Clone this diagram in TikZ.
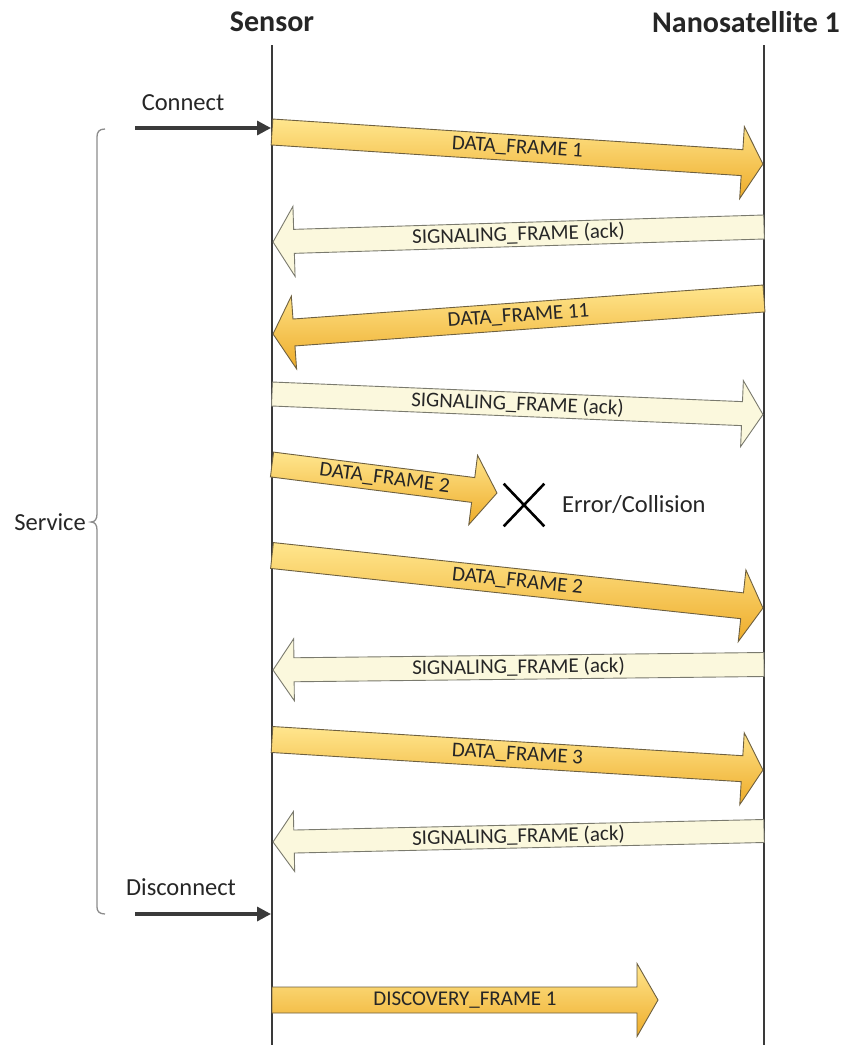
\documentclass[tikz,border=0pt]{standalone}
\usepackage{fontspec}
\setmainfont{Carlito}
\usetikzlibrary{arrows.meta,shapes.misc,calc}
\definecolor{lifec}{HTML}{3A3A3A}
\definecolor{goldtop}{HTML}{FFE68E}
\definecolor{goldbot}{HTML}{EEAC2A}
\definecolor{goldedge}{HTML}{6E6040}
\definecolor{creamfill}{HTML}{FBF8DD}
\definecolor{creamedge}{HTML}{7A7A6E}
\definecolor{bracec}{HTML}{8C8C8C}
\definecolor{txtc}{HTML}{262626}
\tikzset{
  dataframe/.style={top color=goldtop, bottom color=goldbot, draw=goldedge, line width=0.9pt},
  sigframe/.style={fill=creamfill, draw=creamedge, line width=0.9pt},
  framelbl/.style={font=\fontsize{21}{24}\selectfont, text=txtc, inner sep=0pt},
  hdr/.style={font=\fontsize{30}{34}\bfseries\selectfont, text=txtc, inner sep=0pt},
  sidelbl/.style={font=\fontsize{24.5}{28}\selectfont, text=txtc, inner sep=0pt},
  lifeline/.style={draw=lifec, line width=2pt},
  ctrlarrow/.style={draw=lifec, line width=3.2pt, -{Triangle[length=14pt,width=14pt]}},
  bracestyle/.style={draw=bracec, line width=1.3pt},
  crossmark/.style={cross out, draw=black, line width=2.6pt, minimum width=38pt, minimum height=40pt, inner sep=0pt}
}
\def\hlen{21}
% #1 name, #2 x1, #3 y1 (tail centre), #4 x2, #5 y2 (tip), #6 style, #7 body width, #8 head width, #9 label
\newcommand\framearrow[9]{%
  \pgfmathsetmacro\faang{atan2(-((#5)-(#3)),(#4)-(#2))}%
  \pgfmathsetmacro\falen{veclen((#4)-(#2),(#5)-(#3))}%
  \pgfmathsetmacro\fatxt{cos(\faang)<0 ? \faang+180 : \faang}%
  \begin{scope}[shift={(#2,#3)}, rotate=\faang]
    \path[#6] (0,-#7/2) -- (\falen-\hlen,-#7/2) -- (\falen-\hlen,-#8/2) -- (\falen,0)
      -- (\falen-\hlen,#8/2) -- (\falen-\hlen,#7/2) -- (0,#7/2) -- cycle;
  \end{scope}
  \node[framelbl, rotate=\fatxt] (#1) at ($(#2,#3)!0.5!(#4,#5)$) {#9};
}
\begin{document}
\begin{tikzpicture}[x=1pt,y=-1pt]
\useasboundingbox[fill=white] (0,0) rectangle (845,1045);

% headers and lifelines
\node[hdr] (sensor) at (272,22) {Sensor};
\node[hdr] (nano) at (746,22) {Nanosatellite 1};
\coordinate (stop) at (272,45);
\coordinate (sbot) at (272,1045);
\coordinate (ntop) at (764,45);
\coordinate (nbot) at (764,1045);
\draw[lifeline] (stop) -- (sbot);
\draw[lifeline] (ntop) -- (nbot);

% connect / disconnect
\node[sidelbl] (connect) at (183,103) {Connect};
\coordinate (con0) at (135,128);
\coordinate (con1) at (271,128);
\draw[ctrlarrow] (con0) -- (con1);
\node[sidelbl] (disconnect) at (181,887) {Disconnect};
\coordinate (dis0) at (135,914);
\coordinate (dis1) at (271,914);
\draw[ctrlarrow] (dis0) -- (dis1);

% service brace
\draw[bracestyle] (105,129) .. controls (99,129) and (97,132) .. (97,137) -- (97,514)
  .. controls (97,519) and (95,522) .. (91,522) .. controls (95,522) and (97,525) .. (97,530)
  -- (97,907) .. controls (97,911) and (99,914) .. (105,914);
\node[sidelbl, anchor=east] (service) at (86,522) {Service};

% frames
\framearrow{f1}{272}{132}{763}{164}{dataframe}{26}{72}{DATA\_FRAME 1}
\framearrow{f2}{764}{227}{273}{242}{sigframe}{24}{70}{SIGNALING\_FRAME (ack)}
\framearrow{f3}{764}{298.5}{273}{334}{dataframe}{27}{73}{DATA\_FRAME 11}
\framearrow{f4}{272}{394}{763}{414.5}{sigframe}{24}{66}{SIGNALING\_FRAME (ack)}
\def\hlen{24}
\framearrow{f5}{272}{464.5}{497}{493}{dataframe}{25}{70}{DATA\_FRAME 2}
\def\hlen{21}
\framearrow{f6}{272}{555.5}{763}{608}{dataframe}{26}{72}{DATA\_FRAME 2}
\framearrow{f7}{764}{664.5}{273}{670}{sigframe}{24}{62}{SIGNALING\_FRAME (ack)}
\framearrow{f8}{272}{739.5}{763}{770}{dataframe}{26}{72}{DATA\_FRAME 3}
\framearrow{f9}{764}{831}{273}{842}{sigframe}{23}{60}{SIGNALING\_FRAME (ack)}
\framearrow{f10}{272}{1000}{658}{1000}{dataframe}{26}{73}{DISCOVERY\_FRAME 1}

% error
\node[crossmark] (cross) at (524,505) {};
\node[sidelbl, anchor=west] (err) at (562,505) {Error/Collision};
\end{tikzpicture}
\end{document}
